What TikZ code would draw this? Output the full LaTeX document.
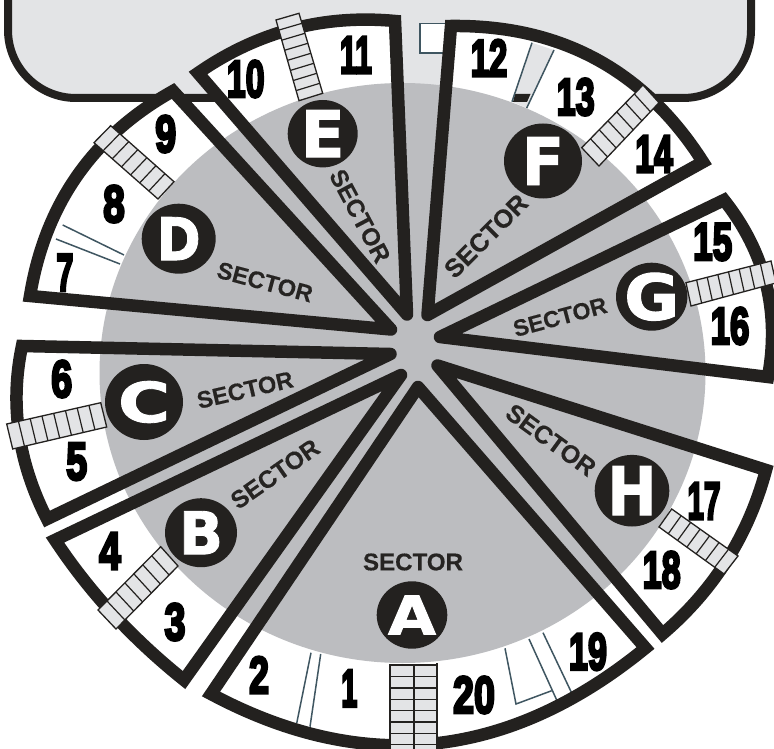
\documentclass[tikz,border=0pt]{standalone}
\usepackage{fontspec}
\usepackage{graphicx}
\setmainfont{Liberation Sans}
\newfontface\numfont[FakeBold=5.5]{Liberation Sans Bold}
\newfontface\letfont[FakeBold=1.5]{DejaVu Sans Bold}
\newfontface\secfont[FakeBold=0.4]{Liberation Sans Bold}
\usetikzlibrary{calc,shapes.geometric}
\definecolor{ink}{HTML}{23211F}
\definecolor{disc}{HTML}{BCBDC0}
\definecolor{panel}{HTML}{E3E4E6}
\definecolor{slate}{HTML}{3F5661}
\definecolor{sectxt}{HTML}{262422}
\tikzset{
  wedgeline/.style={draw=ink,line width=12.5pt,line cap=round,line join=miter},
  thin slate/.style={draw=slate,line width=1.5pt},
  ladderbox/.style={draw=ink,line width=1.3pt,fill=panel,line join=miter},
  rung/.style={draw=ink,line width=1.2pt},
  txt/.style={inner sep=0pt,outer sep=0pt},
}
% apex x/y, corner1 x/y, corner2 x/y, arc mid x/y
\def\wedgedata{
 418/387/211/694/645.5/648/434/743.5,
 401/375/55/540/184/680/113/614,
 390.5/354/22/346/47/519/19/433,
 391/329.5/30/296/173/91/77/176,
 407/314.5/198/73/395/21/292/29,
 427.5/315/451/26/703/162/596/59,
 440/337/724/200/768/377/766/283.5,
 437.5/365.5/766/470/662.5/634/727/560}
\newcommand\ladderpoly[5]{%
  \draw[ladderbox] (#1) -- (#2) -- (#3) -- (#4) -- cycle;
  \foreach \i in {1,...,\numexpr#5-1\relax}
    \draw[rung] ($(#1)!\i/#5!(#4)$) -- ($(#2)!\i/#5!(#3)$);
}
\newcommand\numlab[4]{\node[txt] (n#4) at (#1,#2) {\resizebox{#3pt}{36.5pt}{\numfont #4}};}
\newcommand\badge[7]{%
  \node[txt,shape=ellipse,fill=ink,minimum width=2*#3pt,minimum height=2*#4pt] (b#7) at (#1,#2) {};
  \node[txt,white] (l#7) at (#1,#2) {\resizebox{#5pt}{#6pt}{\letfont #7}};
}
\newcommand\seclab[5]{\node[txt,sectxt,rotate=#3] (s#5) at (#1,#2) {\resizebox{#4pt}{!}{\secfont SECTOR}};}
\begin{document}
\begin{tikzpicture}[x=1pt,y=-1pt]
\useasboundingbox (0,0) rectangle (774,749);
\clip (0,0) rectangle (774,749);
\fill[white] (0,0) rectangle (774,749);
% top panel
\draw[draw=ink,fill=panel,line width=8pt,rounded corners=68pt] (8,-120) -- (8,98) -- (751,98) -- (751,-120) -- cycle;
% small box between E and F
\draw[thin slate,fill=white] (420,23.5) rectangle (450,53);
% wedge fills
\foreach \ax/\ay/\bx/\by/\cx/\cy/\mx/\my in \wedgedata {
  \pgfmathsetmacro\pax{(4*\mx-\cx)/3}\pgfmathsetmacro\pay{(4*\my-\cy)/3}
  \pgfmathsetmacro\qax{(4*\mx-\bx)/3}\pgfmathsetmacro\qay{(4*\my-\by)/3}
  \fill[white] (\ax,\ay) -- (\bx,\by) .. controls (\pax,\pay) and (\qax,\qay) .. (\cx,\cy) -- cycle;
}
% window in sector F showing the panel behind
\fill[panel] (532,42.7) -- (554,50) -- (526.7,108) -- (512,101.7) -- cycle;
\fill[ink] (515,94) -- (530.5,94) -- (527,102) -- (513,102) -- cycle;
% central disc
\fill[disc] (402.5,373) ellipse [x radius=303pt,y radius=290pt];
% thin partitions
\draw[thin slate] (62.7,225) -- (124,255);
\draw[thin slate] (56,239) -- (120,264);
\draw[thin slate] (532,42.7) -- (512,101.7);
\draw[thin slate] (554,50) -- (526.7,108);
\draw[thin slate] (311,652.7) -- (296.7,723.3);
\draw[thin slate] (320.7,654) -- (310,726.7);
\draw[thin slate] (543,632.7) -- (571.7,693);
\draw[thin slate] (529,639) -- (557,700.7);
\draw[thin slate] (505,648.3) -- (516,704) -- (551.7,690.7);
% wedge outlines
\foreach \ax/\ay/\bx/\by/\cx/\cy/\mx/\my in \wedgedata {
  \pgfmathsetmacro\pax{(4*\mx-\cx)/3}\pgfmathsetmacro\pay{(4*\my-\cy)/3}
  \pgfmathsetmacro\qax{(4*\mx-\bx)/3}\pgfmathsetmacro\qay{(4*\my-\by)/3}
  \draw[wedgeline] (\ax,\ay) -- (\bx,\by) .. controls (\pax,\pay) and (\qax,\qay) .. (\cx,\cy) -- (\ax,\ay);
}
% ladders
\draw[ladderbox] (390,665) rectangle (437,760);
\draw[rung] (414,665) -- (414,760);
\draw[rung] (437,663) -- (437,666);
\foreach \y in {676.7,688,699.3,710.6,721.9,733.2,744.5} \draw[rung] (390,\y) -- (437,\y);
\ladderpoly{160.7,546.7}{178,566}{116,629}{98,610}{7}
\ladderpoly{100.7,402.7}{106.7,427}{12.7,449}{6.7,424}{8}
\ladderpoly{174,181.7}{158,199}{94,142.7}{110.7,125.7}{7}
\ladderpoly{299,100.7}{322.7,93.3}{299,13.3}{276,20}{8}
\ladderpoly{581.7,147.7}{599,166}{659,102.7}{643,85}{7}
\ladderpoly{686,282.7}{691,306}{776,283}{771,261}{8}
\ladderpoly{671.7,509}{659,527}{724,574}{738,556}{7}
% badges
\badge{412}{615}{35.3}{33.7}{48}{39}{A}
\badge{201}{532.7}{36}{34.5}{44}{43}{B}
\badge{144}{402}{39}{38}{52}{41}{C}
\badge{178.7}{238.7}{37}{35}{44}{43}{D}
\badge{322.7}{133.7}{35}{33.7}{44}{47}{E}
\badge{543}{161}{39}{37.5}{42}{48}{F}
\badge{651.7}{296.7}{35.7}{34}{55}{47}{G}
\badge{632}{490.7}{37.3}{35.8}{49}{49}{H}
% sector words
\seclab{413}{562}{0}{100}{A}
\seclab{275}{474}{35}{102}{B}
\seclab{245}{390}{13}{98}{C}
\seclab{265}{282}{-15}{98}{D}
\seclab{360}{216}{-62}{102}{E}
\seclab{486}{236}{45}{106}{F}
\seclab{560}{317}{15}{96}{G}
\seclab{551}{440}{-36}{104}{H}
% numbers
\numlab{349.3}{688.3}{16}{1}
\numlab{259}{675}{20}{2}
\numlab{175}{622}{21}{3}
\numlab{110}{551}{21.7}{4}
\numlab{76.7}{461.7}{21}{5}
\numlab{61.7}{379}{21}{6}
\numlab{65}{272.7}{17}{7}
\numlab{114}{204}{21.7}{8}
\numlab{165.7}{134}{21}{9}
\numlab{245.7}{79}{37.7}{10}
\numlab{356}{55}{32}{11}
\numlab{489}{58}{36.7}{12}
\numlab{575.7}{97}{38}{13}
\numlab{654}{154}{37.7}{14}
\numlab{712.7}{242}{39}{15}
\numlab{730}{326}{38.7}{16}
\numlab{704}{501}{33}{17}
\numlab{661.7}{570}{38}{18}
\numlab{588}{651.7}{38}{19}
\numlab{474}{695}{42}{20}
\end{tikzpicture}
\end{document}
